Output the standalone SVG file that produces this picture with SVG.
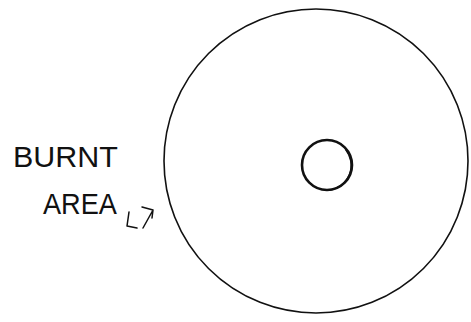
<svg xmlns="http://www.w3.org/2000/svg" width="471" height="322" viewBox="0 0 471 322">
<style>
.ink{fill:none;stroke:#111;stroke-linecap:round;stroke-linejoin:round}
.hand{font-family:"Liberation Sans",Arial,sans-serif;font-size:30px;fill:#111}
</style>
<rect width="471" height="322" fill="#fff"/>
<g id="disc">
<circle class="ink" cx="316" cy="161" r="152" stroke-width="1.6"/>
</g>
<g id="hole">
<ellipse class="ink" cx="327" cy="165" rx="25" ry="25" stroke-width="2.6"/>
<path class="ink" d="M346,150 A25,25 0 0 1 330,190" stroke-width="1.6"/>
</g>
<g id="label">
<text class="hand" x="13" y="167" textLength="105" lengthAdjust="spacingAndGlyphs">BURNT</text>
<text class="hand" x="43" y="214" textLength="74" lengthAdjust="spacingAndGlyphs">AREA</text>
</g>
<g id="connectors">
<path class="ink" stroke-width="1.5" d="M129,212 L127,226 L137,228"/>
<path class="ink" stroke-width="1.5" d="M143,228 L153,210 M142,207 L153,210 L152,218"/>
</g>
</svg>
